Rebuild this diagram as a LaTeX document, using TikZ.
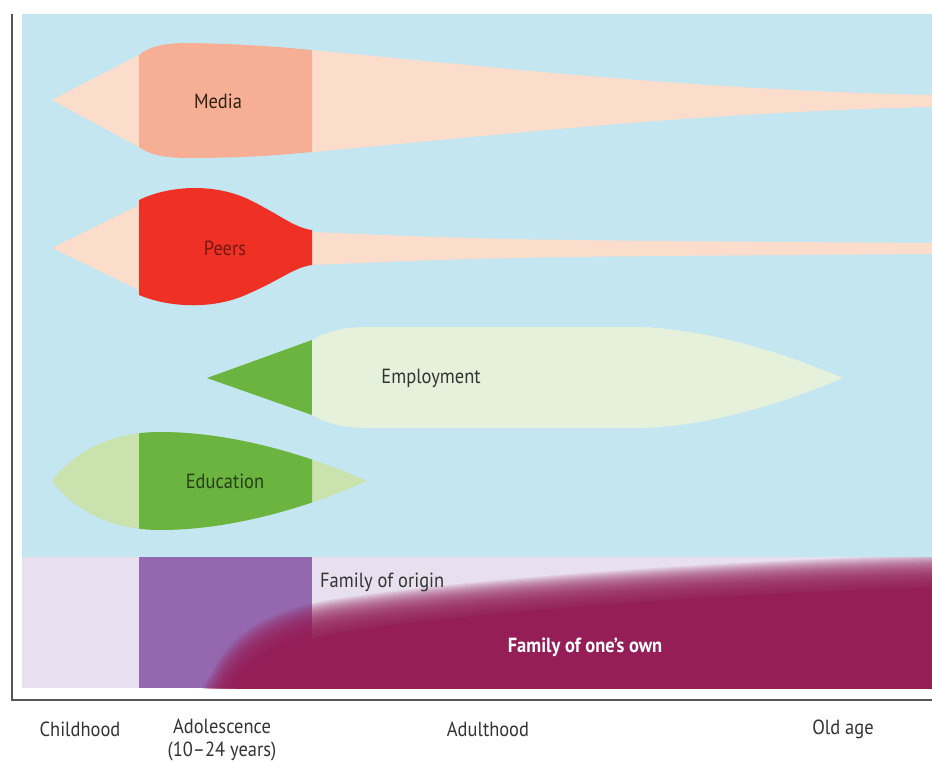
\documentclass[tikz,border=0pt]{standalone}
\usepackage{fontspec}
\setmainfont[FakeStretch=0.9]{PT Sans}
\definecolor{skyb}{HTML}{C4E6F1}
\definecolor{peach}{HTML}{FCDDCB}
\definecolor{salmon}{HTML}{F6AE94}
\definecolor{peerred}{HTML}{EE3124}
\definecolor{empl}{HTML}{E6F1DB}
\definecolor{dgreen}{HTML}{6BB43F}
\definecolor{lgreen}{HTML}{C9E2AE}
\definecolor{lav}{HTML}{E8E0EF}
\definecolor{purp}{HTML}{9467AE}
\definecolor{maroon}{HTML}{951E57}
\definecolor{axisgrey}{HTML}{555555}
\tikzset{
  lbl/.style={font=\fontsize{20.5}{23}\selectfont, text=black!80, inner sep=0pt},
  axlbl/.style={font=\fontsize{20.5}{23}\selectfont, text=black!80, inner sep=0pt, align=center},
  axisline/.style={draw=axisgrey, line width=1.4pt},
}
\begin{document}
\begin{tikzpicture}[x=1pt,y=-1pt]
\useasboundingbox (0,0) rectangle (932,761);
\fill[white] (0,0) rectangle (980,761);
\begin{scope}
\clip (0,0) rectangle (980,761);
% background
\fill[skyb] (22,14) rectangle (980,557);
\fill[lav] (22,557) rectangle (980,688);
% Media
\fill[peach] (52,100) -- (139,55) -- (139,147) -- cycle;
\fill[peach] (312,50) .. controls (500,68) and (700,90) .. (932,95) -- (980,96) -- (980,106) -- (932,107) .. controls (700,112) and (500,135) .. (312,152) -- cycle;
\fill[salmon] (139,55) .. controls (150,46) and (165,43) .. (190,43) .. controls (250,44) and (290,48) .. (312,50) -- (312,152) .. controls (290,154) and (250,158) .. (190,158) .. controls (165,158) and (150,155) .. (139,147) -- cycle;
% Peers
\fill[peach] (52,248) -- (139,205) -- (139,290) -- cycle;
\fill[peach] (312,232) .. controls (500,240) .. (932,243) -- (980,244) -- (980,253) -- (932,254) .. controls (500,257) .. (312,265) -- cycle;
\fill[peerred] (139,200) .. controls (170,185) and (215,183) .. (250,200) .. controls (280,215) and (295,228) .. (312,230) -- (312,265) .. controls (295,267) and (280,280) .. (250,293) .. controls (215,310) and (170,308) .. (139,295) -- cycle;
% Employment
\fill[dgreen] (207,378) -- (312,340) -- (312,415) -- cycle;
\fill[empl] (312,340) .. controls (330,330) and (345,327) .. (370,327) -- (640,327) .. controls (720,330) and (800,360) .. (843,378) .. controls (800,396) and (720,426) .. (640,428) -- (370,428) .. controls (345,428) and (330,425) .. (312,415) -- cycle;
% Education
\fill[lgreen] (52,481) .. controls (80,445) and (120,432) .. (160,432) .. controls (240,432) and (320,460) .. (367,481) .. controls (320,502) and (240,530) .. (160,530) .. controls (120,530) and (80,517) .. (52,481) -- cycle;
\begin{scope}
\clip (139,400) rectangle (312,560);
\fill[dgreen] (52,481) .. controls (80,445) and (120,432) .. (160,432) .. controls (240,432) and (320,460) .. (367,481) .. controls (320,502) and (240,530) .. (160,530) .. controls (120,530) and (80,517) .. (52,481) -- cycle;
\end{scope}
% Family
\fill[purp] (139,557) rectangle (312,688);
\begin{scope}
\clip (22,557) rectangle (980,688);
\foreach \s in {-16,-15,...,16}{
  \fill[maroon, opacity=0.08, shift={(0.5*\s,\s)}] (220,688) .. controls (238,652) and (268,630) .. (330,617) .. controls (450,597) and (700,578) .. (932,571) -- (1000,569) -- (1000,720) -- (200,720) -- cycle;
}
\fill[maroon, shift={(8,16)}] (220,688) .. controls (238,652) and (268,630) .. (330,617) .. controls (450,597) and (700,578) .. (932,571) -- (1000,569) -- (1000,720) -- (200,720) -- cycle;
\end{scope}
\end{scope}
% axes
\coordinate (axtop) at (12,14);
\coordinate (axorigin) at (12,700);
\coordinate (axright) at (980,700);
\draw[axisline] (axtop) -- (axorigin) -- (axright);
% labels
\node[lbl, text=black!75!brown] (media) at (218,101) {Media};
\node[lbl, text=peerred!50!black] (peers) at (225,248) {Peers};
\node[lbl] (employ) at (431,378) {Employment};
\node[lbl, text=dgreen!35!black] (educ) at (225,481) {Education};
\node[lbl, anchor=west] (forigin) at (320,582) {Family of origin};
\node[lbl, text=white, font=\fontsize{20.5}{23}\selectfont\bfseries] (fown) at (585,647) {Family of one’s own};
\node[axlbl] (child) at (80,729) {Childhood};
\node[axlbl, anchor=north] (adol) at (222,719) {Adolescence\\(10–24 years)};
\node[axlbl] (adult) at (488,729) {Adulthood};
\node[axlbl] (old) at (843,729) {Old age};
\end{tikzpicture}
\end{document}
